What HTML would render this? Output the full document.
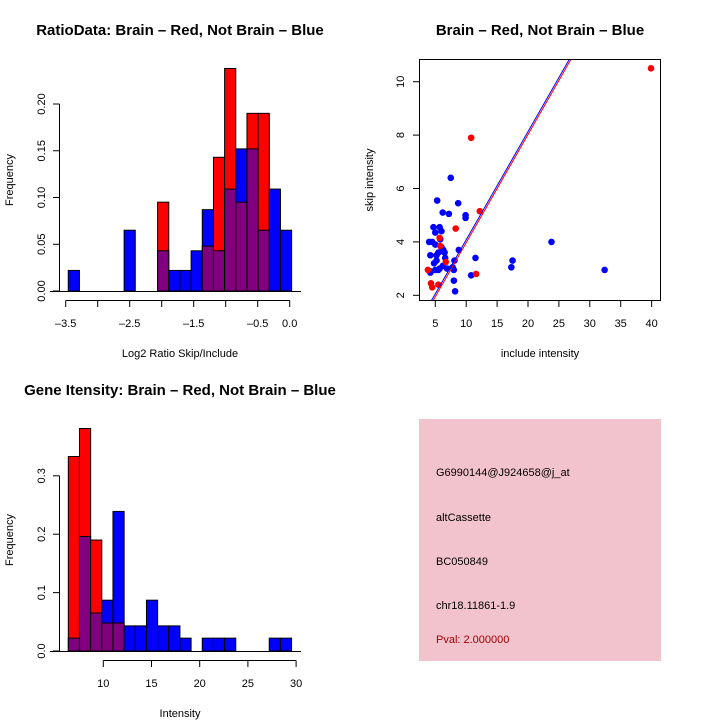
<!DOCTYPE html>
<html><head><meta charset="utf-8"><style>
html,body{margin:0;padding:0;background:#fff;}
svg{display:block;font-family:"Liberation Sans",Arial,sans-serif;}
</style></head><body>
<svg id="c" width="720" height="720" viewBox="0 0 720 720">
<rect width="720" height="720" fill="#fff"/>
</svg>
<script>
// Panel 1: ratio histogram
const ratioBinStart = -3.46;
const ratioBinWidth = 0.1745;
const ratioRed = [0,0,0,0,0,0,0,0,0.095,0,0,0,0.048,0.143,0.238,0.095,0.19,0.19,0,0];
const ratioBlue = [0.022,0,0,0,0,0.065,0,0,0.043,0.022,0.022,0.043,0.087,0.043,0.109,0.152,0.152,0.065,0.109,0.065];
const ratioXTicks = [-3.5,-3,-2.5,-2,-1.5,-1,-0.5,0];
const ratioXLabels = ["-3.5","","-2.5","","-1.5","","-0.5","0.0"];
const ratioYTicks = [0,0.05,0.1,0.15,0.2];
const ratioYLabels = ["0.00","0.05","0.10","0.15","0.20"];
// Panel 2: scatter
const blueX = [4,4.2,4.2,4.7,5,5.3,5.7,5.8,6,6.2,7.2,7.5,8.7,9.9,9.9,4.5,5,5.2,5.5,6,6.3,6.6,4.8,5.2,5.7,6.2,6.9,7.8,8.1,8.8,8,5,5.5,8,8.2,10.8,11.5,17.3,17.5,23.8,32.4,4.2,6.5];
const blueY = [4,3.5,2.9,4.55,4.35,5.55,4.55,4.1,4.4,5.1,5.05,6.4,5.45,5,4.9,4,3.9,3.5,3.6,3.8,3.7,3.4,3.2,3.3,3,3.1,3,3.05,3.3,3.7,2.95,2.95,2.95,2.55,2.15,2.75,3.4,3.05,3.3,4,2.95,2.85,3.6];
const redX = [39.9,10.8,12.2,8.3,3.8,4.3,4.5,5.5,11.6,5.8,6.7,5.7];
const redY = [10.5,7.9,5.15,4.5,2.95,2.45,2.3,2.4,2.8,3.85,3.25,4.15];
const fitBlue = [0.03,0.405];
const fitRed = [-0.08,0.405];
const scatXTicks = [5,10,15,20,25,30,35,40];
const scatYTicks = [2,4,6,8,10];
// Panel 3: intensity histogram
const intBinStart = 6.37;
const intBinWidth = 1.158;
const intRed = [0.333,0.381,0.19,0.048,0.048,0,0,0,0,0,0,0,0,0,0,0,0,0,0,0];
const intBlue = [0.022,0.196,0.065,0.087,0.239,0.043,0.043,0.087,0.043,0.043,0.022,0,0.022,0.022,0.022,0,0,0,0.022,0.022];
const intXTicks = [10,15,20,25,30];
const intYTicks = [0,0.1,0.2,0.3];
const intYLabels = ["0.0","0.1","0.2","0.3"];

const svg = document.getElementById('c');
const NS = 'http://www.w3.org/2000/svg';
function mk(tag, attrs, parent){
  const e = document.createElementNS(NS, tag);
  for (const k in attrs) e.setAttribute(k, attrs[k]);
  (parent||svg).appendChild(e);
  return e;
}
function txt(x,y,s,attrs,parent){
  const t = mk('text', Object.assign({x:x,y:y,'font-size':12,fill:'#000'},attrs||{}), parent);
  t.textContent = s;
  return t;
}

function histogram(name, binStart, binW, red, blue, sx, sy, g){
  for (let i=0;i<red.length;i++){
    const x0 = sx(binStart+i*binW), x1 = sx(binStart+(i+1)*binW);
    const r = red[i], b = blue[i];
    const hi = Math.max(r,b), lo = Math.min(r,b);
    if (hi>0){
      const bar = mk('rect',{x:x0,y:sy(hi),width:x1-x0,height:sy(0)-sy(hi),fill:r>=b?'#ff0000':'#0000ff',stroke:'#000','stroke-width':1},g);
      
      
    }
    if (lo>0){
      const p = mk('rect',{x:x0,y:sy(lo),width:x1-x0,height:sy(0)-sy(lo),fill:'#800080',stroke:'#000','stroke-width':1},g);
      
      
    }
  }
}

// ---------- Panel 1 ----------
(function(){
  const g = mk('g',{});
  
  
  const sx = v => 65.7 + (v+3.5)*64;
  const sy = v => 291 - v*935;
  const t = txt(180,35,'RatioData: Brain \u2013 Red, Not Brain \u2013 Blue',{'text-anchor':'middle','font-weight':'bold','font-size':15},g);
   
  histogram('ratio', ratioBinStart, ratioBinWidth, ratioRed, ratioBlue, sx, sy, g);
  mk('line',{x1:50,y1:291.5,x2:301,y2:291.5,stroke:'#000'},g);
  const ya = mk('g',{},g);  
  mk('line',{x1:59.5,y1:sy(0),x2:59.5,y2:sy(0.2),stroke:'#000'},ya);
  ratioYTicks.forEach((v,i)=>{
    mk('line',{x1:53,y1:sy(v),x2:59.5,y2:sy(v),stroke:'#000'},ya);
    txt(45,sy(v),ratioYLabels[i],{'text-anchor':'middle',transform:`rotate(-90 45 ${sy(v)})`,'font-size':11},ya);
  });
  const yt = txt(13,180,'Frequency',{'text-anchor':'middle',transform:'rotate(-90 13 180)','font-size':11},g);
   
  const xa = mk('g',{},g);  
  mk('line',{x1:sx(-3.5),y1:300.5,x2:sx(0),y2:300.5,stroke:'#000'},xa);
  ratioXTicks.forEach((v,i)=>{
    mk('line',{x1:sx(v),y1:300.5,x2:sx(v),y2:307,stroke:'#000'},xa);
    if (ratioXLabels[i]) txt(sx(v),327,ratioXLabels[i].replace('-','\u2013'),{'text-anchor':'middle','font-size':11},xa);
  });
  const xt = txt(180,357,'Log2 Ratio Skip/Include',{'text-anchor':'middle','font-size':11},g);
   
})();

// ---------- Panel 2 ----------
(function(){
  const g = mk('g',{});
  
  
  const sx = v => 435.3 + (v-5)*6.18;
  const sy = v => 295.3 - (v-2)*26.7;
  const t = txt(540,35,'Brain \u2013 Red, Not Brain \u2013 Blue',{'text-anchor':'middle','font-weight':'bold','font-size':15},g);
   
  mk('defs',{}).innerHTML = '<clipPath id="sc"><rect x="419.5" y="59.5" width="241" height="241"/></clipPath>';
  const pg = mk('g',{'clip-path':'url(#sc)'},g);
  blueX.forEach((x,i)=>{
    const c = mk('circle',{cx:sx(x),cy:sy(blueY[i]),r:3.3,fill:'#0000ff'},pg);
    
    
  });
  redX.forEach((x,i)=>{
    const c = mk('circle',{cx:sx(x),cy:sy(redY[i]),r:3.3,fill:'#ff0000'},pg);
    
    
  });
  [[fitRed,'#ff0000','red-fit-line'],[fitBlue,'#0000ff','blue-fit-line']].forEach(([f,col,nm])=>{
    const l = mk('line',{x1:sx(0),y1:sy(f[0]),x2:sx(40),y2:sy(f[0]+f[1]*40),stroke:col,'stroke-width':1},pg);
    
    
  });
  mk('rect',{x:419.5,y:59.5,width:241,height:241,fill:'none',stroke:'#000'},g);
  const xa = mk('g',{},g);  
  scatXTicks.forEach(v=>{
    mk('line',{x1:sx(v),y1:300.5,x2:sx(v),y2:307,stroke:'#000'},xa);
    txt(sx(v),327,String(v),{'text-anchor':'middle','font-size':11},xa);
  });
  const ya = mk('g',{},g);  
  scatYTicks.forEach(v=>{
    mk('line',{x1:413,y1:sy(v),x2:419.5,y2:sy(v),stroke:'#000'},ya);
    txt(404,sy(v),String(v),{'text-anchor':'middle',transform:`rotate(-90 404 ${sy(v)})`,'font-size':11},ya);
  });
  const xt = txt(540,357,'include intensity',{'text-anchor':'middle','font-size':11},g);
   
  const yt = txt(373,180,'skip intensity',{'text-anchor':'middle',transform:'rotate(-90 373 180)','font-size':11},g);
   
})();

// ---------- Panel 3 ----------
(function(){
  const g = mk('g',{});
  
  
  const sx = v => 103.3 + (v-10)*9.64;
  const sy = v => 651 - v*584;
  const t = txt(180,395,'Gene Itensity: Brain \u2013 Red, Not Brain \u2013 Blue',{'text-anchor':'middle','font-weight':'bold','font-size':15},g);
   
  histogram('intensity', intBinStart, intBinWidth, intRed, intBlue, sx, sy, g);
  mk('line',{x1:50,y1:651.5,x2:301,y2:651.5,stroke:'#000'},g);
  const ya = mk('g',{},g);  
  mk('line',{x1:59.5,y1:sy(0),x2:59.5,y2:sy(0.3),stroke:'#000'},ya);
  intYTicks.forEach((v,i)=>{
    mk('line',{x1:53,y1:sy(v),x2:59.5,y2:sy(v),stroke:'#000'},ya);
    txt(45,sy(v),intYLabels[i],{'text-anchor':'middle',transform:`rotate(-90 45 ${sy(v)})`,'font-size':11},ya);
  });
  const yt = txt(13,540,'Frequency',{'text-anchor':'middle',transform:'rotate(-90 13 540)','font-size':11},g);
   
  const xa = mk('g',{},g);  
  mk('line',{x1:sx(10),y1:660.5,x2:sx(30),y2:660.5,stroke:'#000'},xa);
  intXTicks.forEach(v=>{
    mk('line',{x1:sx(v),y1:660.5,x2:sx(v),y2:667,stroke:'#000'},xa);
    txt(sx(v),687,String(v),{'text-anchor':'middle','font-size':11},xa);
  });
  const xt = txt(180,717,'Intensity',{'text-anchor':'middle','font-size':11},g);
   
})();

// ---------- Panel 4: info box ----------
(function(){
  const g = mk('g',{});
  
  
  mk('rect',{x:419,y:419,width:242,height:242,fill:'#f3c3cd'},g);
  const lines = [['G6990144@J924658@j_at',476,'#000','probe-id'],['altCassette',521,'#000','event-type'],['BC050849',565,'#000','accession'],['chr18.11861-1.9',609,'#000','location'],['Pval: 2.000000',643,'#a00000','p-value']];
  lines.forEach(([s,y,c,n])=>{
    const t = txt(436,y,s,{fill:c,'font-size':11},g);
    
    
  });
})();
</script>
</body></html>
